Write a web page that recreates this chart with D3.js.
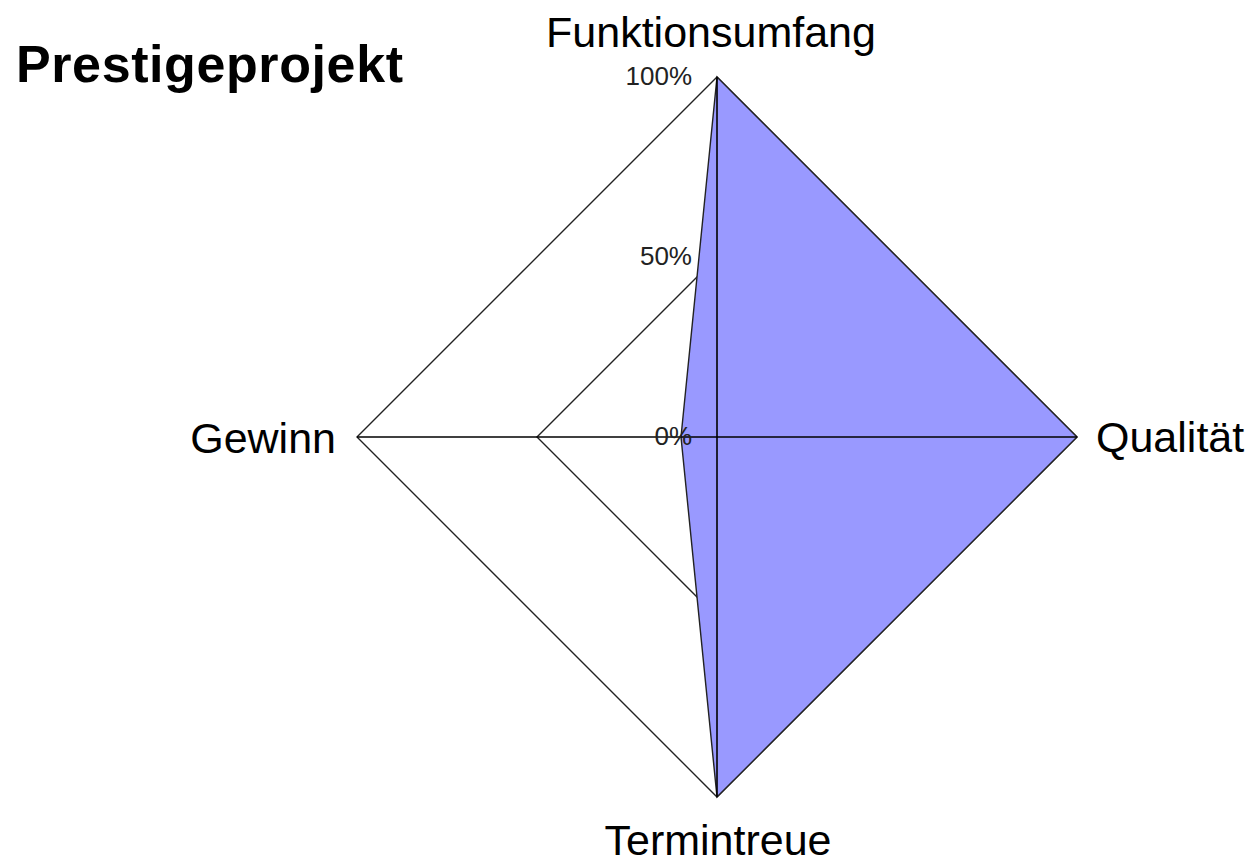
<!DOCTYPE html>
<html>
<head>
<meta charset="utf-8">
<script src="https://cdn.jsdelivr.net/npm/d3@7/dist/d3.min.js"></script>
<style>
  body { margin: 0; background: #fff; }
  text { font-family: "Liberation Sans", Arial, sans-serif; }
</style>
</head>
<body>
<script>
// chart data
const title = "Prestigeprojekt";
const categories = ["Funktionsumfang", "Qualität", "Termintreue", "Gewinn"];
const values = [1.0, 1.0, 1.0, 0.1];
const ringTicks = [0.5, 1.0];
const tickValues = [0, 0.5, 1.0];
const tickLabels = ["0%", "50%", "100%"];

const W = 1260, H = 864;
const cx = 717, cy = 437, R = 360;

const svg = d3.select("body").append("svg")
  .attr("width", W)
  .attr("height", H);

const r = d3.scaleLinear().domain([0, 1]).range([0, R]);
// clockwise from the top
const angle = d3.scalePoint().domain(categories).range([0, 2 * Math.PI * 3 / 4]);

function pt(cat, v) {
  const a = angle(cat);
  return [cx + r(v) * Math.sin(a), cy - r(v) * Math.cos(a)];
}

const line = d3.line().curve(d3.curveLinearClosed);

// grid rings
svg.selectAll("path.ring")
  .data(ringTicks)
  .enter().append("path")
  .attr("class", "ring")
  .attr("d", t => line(categories.map(c => pt(c, t))))
  .attr("fill", "none")
  .attr("stroke", "#222")
  .attr("stroke-width", 1.4);

// data polygon
svg.append("path")
  .attr("d", line(categories.map((c, i) => pt(c, values[i]))))
  .attr("fill", "#9999ff")
  .attr("stroke", "#222")
  .attr("stroke-width", 1.4);

// axes
svg.selectAll("line.axis")
  .data(categories)
  .enter().append("line")
  .attr("class", "axis")
  .attr("x1", cx).attr("y1", cy)
  .attr("x2", c => pt(c, 1)[0])
  .attr("y2", c => pt(c, 1)[1])
  .attr("stroke", "#000")
  .attr("stroke-width", 1.6);

// percent labels along the top axis
svg.selectAll("text.tick")
  .data(tickValues)
  .enter().append("text")
  .attr("class", "tick")
  .attr("x", cx - 25)
  .attr("y", t => cy - r(t) + 8)
  .attr("text-anchor", "end")
  .attr("font-size", 26)
  .attr("fill", "#222")
  .text((t, i) => tickLabels[i]);

// category labels
const labelPos = {
  "Funktionsumfang": { dx: -6, dy: -30, anchor: "middle" },
  "Qualität": { dx: 19, dy: 15, anchor: "start" },
  "Termintreue": { dx: 1, dy: 58, anchor: "middle" },
  "Gewinn": { dx: -21, dy: 16, anchor: "end" }
};
svg.selectAll("text.cat")
  .data(categories)
  .enter().append("text")
  .attr("class", "cat")
  .attr("x", c => pt(c, 1)[0] + labelPos[c].dx)
  .attr("y", c => pt(c, 1)[1] + labelPos[c].dy)
  .attr("text-anchor", c => labelPos[c].anchor)
  .attr("font-size", 43)
  .attr("fill", "#000")
  .text(c => c);

// title
svg.append("text")
  .attr("x", 16)
  .attr("y", 82)
  .attr("font-size", 52)
  .attr("font-weight", "bold")
  .attr("letter-spacing", 0.6)
  .attr("fill", "#000")
  .text(title);
</script>
</body>
</html>
